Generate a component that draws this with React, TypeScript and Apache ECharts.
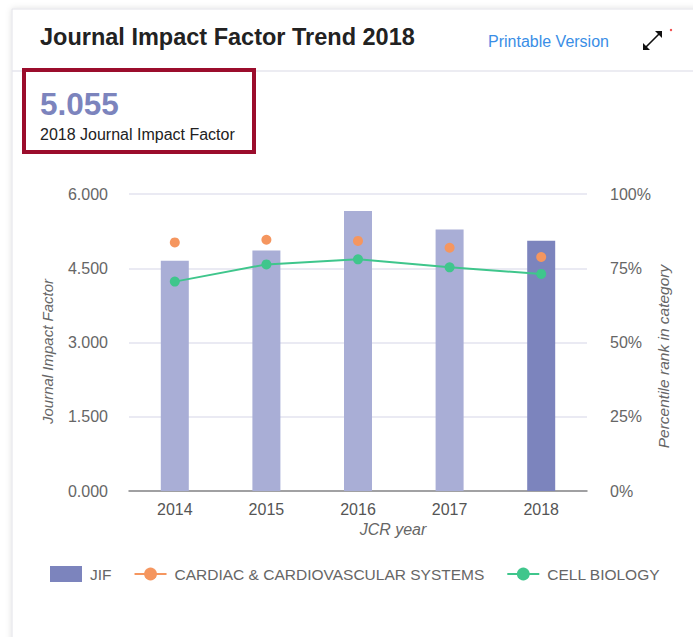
import React, { useEffect, useRef } from "react";
import * as echarts from "echarts";

const years = ["2014", "2015", "2016", "2017", "2018"];
const jifValues = [4.65, 4.859, 5.657, 5.282, 5.055];
const cardiacPercentile = [83.7, 84.6, 84.2, 81.9, 78.8];
const cellBiologyPercentile = [70.5, 76.3, 78.0, 75.3, 73.1];
const leftTicks = { min: 0, max: 6, interval: 1.5 };
const rightTicks = { min: 0, max: 100, interval: 25 };

const BAR_LIGHT = "#a9aed6";
const BAR_DARK = "#7c84bd";
const ORANGE = "#f5965f";
const GREEN = "#3fc68c";
const FONT = "Arial, 'Liberation Sans', sans-serif";

export default function App() {
  const ref = useRef<HTMLDivElement>(null);
  useEffect(() => {
    if (!ref.current) return;
    const chart = echarts.init(ref.current, null, { renderer: "svg" });
    chart.setOption({
      animation: false,
      textStyle: { fontFamily: FONT },
      graphic: [
        // card
        { type: "rect", shape: { x: 12, y: 9, width: 700, height: 640 }, style: { fill: "#fff", stroke: "#e2e2e8", lineWidth: 1, shadowBlur: 6, shadowColor: "rgba(0,0,0,0.12)" }, z: -10 },
        { type: "line", shape: { x1: 12, y1: 71, x2: 693, y2: 71 }, style: { stroke: "#e6e6ee", lineWidth: 1.5 }, z: -5 },
        { type: "text", x: 40, y: 37, style: { text: "Journal Impact Factor Trend 2018", font: "bold 23.5px " + FONT, fill: "#222", textVerticalAlign: "middle" } },
        { type: "text", x: 488, y: 41, style: { text: "Printable Version", font: "16px " + FONT, fill: "#3a8ee6", textVerticalAlign: "middle" } },
        // expand icon
        { type: "line", shape: { x1: 645, y1: 48, x2: 660, y2: 33 }, style: { stroke: "#111", lineWidth: 1.6 } },
        { type: "polygon", shape: { points: [[643, 50], [643, 43], [650, 50]] }, style: { fill: "#111" } },
        { type: "polygon", shape: { points: [[662, 31], [655, 31], [662, 38]] }, style: { fill: "#111" } },
        { type: "circle", shape: { cx: 671, cy: 30, r: 1.2 }, style: { fill: "#f04a4a" } },
        // highlight box
        { type: "rect", shape: { x: 24, y: 70, width: 230, height: 82 }, style: { fill: "#fff", stroke: "#9b0d2c", lineWidth: 4 } },
        { type: "text", x: 40, y: 104, style: { text: jifValues[4].toFixed(3), font: "bold 31.5px " + FONT, fill: "#7c84bd", textVerticalAlign: "middle" } },
        { type: "text", x: 40, y: 134, style: { text: "2018 Journal Impact Factor", font: "16px " + FONT, fill: "#222", textVerticalAlign: "middle" } },
      ],
      legend: {
        left: 50,
        top: 566,
        padding: 0,
        itemWidth: 32,
        itemHeight: 16,
        itemGap: 22,
        textStyle: { fontSize: 15.5, color: "#666", fontFamily: FONT, padding: [0, 0, 0, 3] },
        data: [
          { name: "JIF", icon: "rect", itemStyle: { color: BAR_DARK } },
          { name: "CARDIAC & CARDIOVASCULAR SYSTEMS", lineStyle: { color: ORANGE, width: 2, opacity: 1 } },
          { name: "CELL BIOLOGY" },
        ],
      },
      grid: { left: 129, right: 106, top: 194, bottom: 146 },
      xAxis: {
        type: "category",
        data: years,
        name: "JCR year",
        nameLocation: "middle",
        nameGap: 30,
        nameMoveOverlap: false,
        nameTextStyle: { fontStyle: "italic", fontSize: 16, color: "#666", padding: [0, 0, 0, 70] },
        axisLine: { lineStyle: { color: "#888", width: 1.5 } },
        axisTick: { alignWithLabel: true, length: 5, lineStyle: { color: "#777", width: 1.5 } },
        axisLabel: { fontSize: 16, color: "#555", margin: 10 },
      },
      yAxis: [
        {
          type: "value",
          ...leftTicks,
          name: "Journal Impact Factor",
          nameLocation: "middle",
          nameGap: 74,
          nameMoveOverlap: false,
          nameTextStyle: { fontStyle: "italic", fontSize: 15, color: "#666", padding: [0, 18, 0, 0] },
          axisLabel: { fontSize: 16, color: "#666", margin: 21, formatter: (v: number) => v.toFixed(3) },
          axisLine: { show: false },
          axisTick: { show: false },
          splitLine: { lineStyle: { color: "#e3e3ef", width: 1.5 } },
        },
        {
          type: "value",
          ...rightTicks,
          name: "Percentile rank in category",
          nameLocation: "middle",
          nameGap: 68,
          nameMoveOverlap: false,
          nameTextStyle: { fontStyle: "italic", fontSize: 15.5, color: "#666", padding: [0, 28, 0, 0] },
          axisLabel: { fontSize: 16, color: "#666", margin: 23, formatter: "{value}%" },
          axisLine: { show: false },
          axisTick: { show: false },
          splitLine: { show: false },
        },
      ],
      series: [
        {
          name: "JIF",
          type: "bar",
          barWidth: 28,
          yAxisIndex: 0,
          itemStyle: { color: BAR_DARK },
          data: jifValues.map((v, i) => ({ value: v, itemStyle: { color: i === jifValues.length - 1 ? BAR_DARK : BAR_LIGHT } })),
          z: 1,
        },
        {
          name: "CARDIAC & CARDIOVASCULAR SYSTEMS",
          type: "line",
          yAxisIndex: 1,
          data: cardiacPercentile,
          symbol: "circle",
          symbolSize: 10,
          itemStyle: { color: ORANGE },
          lineStyle: { opacity: 0, color: ORANGE, width: 2 },
          z: 3,
        },
        {
          name: "CELL BIOLOGY",
          type: "line",
          yAxisIndex: 1,
          data: cellBiologyPercentile,
          symbol: "circle",
          symbolSize: 10,
          itemStyle: { color: GREEN },
          lineStyle: { color: GREEN, width: 2 },
          z: 4,
        },
      ],
    });
    return () => chart.dispose();
  }, []);
  return <div ref={ref} style={{ position: "absolute", left: 0, top: 0, width: 693, height: 637 }} />;
}
